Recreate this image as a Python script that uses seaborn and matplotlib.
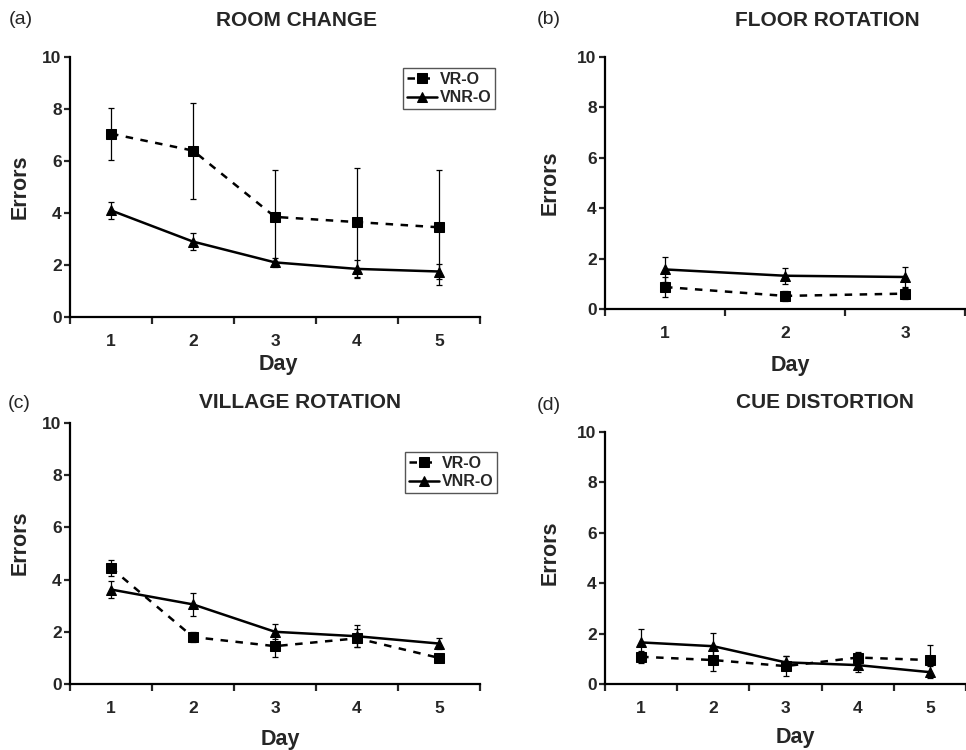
import numpy as np
import pandas as pd
import matplotlib
matplotlib.use("Agg")
import matplotlib.pyplot as plt
import seaborn as sns

# ---- data ----
groups = ["VR-O", "VNR-O"]

room_days = [1, 2, 3, 4, 5]
room_vr = [7.05, 6.4, 3.85, 3.65, 3.45]
room_vr_sem = [1.0, 1.85, 1.8, 2.1, 2.2]
room_vnr = [4.1, 2.9, 2.1, 1.85, 1.75]
room_vnr_sem = [0.32, 0.32, 0.18, 0.35, 0.27]

floor_days = [1, 2, 3]
floor_vr = [0.87, 0.52, 0.61]
floor_vr_sem = [0.38, 0.2, 0.21]
floor_vnr = [1.57, 1.32, 1.27]
floor_vnr_sem = [0.5, 0.32, 0.38]

village_days = [1, 2, 3, 4, 5]
village_vr = [4.45, 1.8, 1.45, 1.75, 1.0]
village_vr_sem = [0.32, 0.18, 0.4, 0.35, 0.05]
village_vnr = [3.62, 3.05, 2.0, 1.83, 1.55]
village_vnr_sem = [0.33, 0.43, 0.28, 0.42, 0.21]

cue_days = [1, 2, 3, 4, 5]
cue_vr = [1.08, 0.95, 0.71, 1.05, 0.95]
cue_vr_sem = [0.23, 0.42, 0.4, 0.23, 0.6]
cue_vnr = [1.65, 1.5, 0.86, 0.75, 0.47]
cue_vnr_sem = [0.52, 0.52, 0.26, 0.27, 0.23]

W, H = 966, 750

sns.set_style("ticks")
plt.rcParams["font.family"] = ["Liberation Sans", "DejaVu Sans"]
plt.rcParams["axes.linewidth"] = 1.6


def px_box(left, top, right, bottom):
    return [left / W, 1 - bottom / H, (right - left) / W, (bottom - top) / H]


def draw_panel(fig, box, days, vr, vr_sem, vnr, vnr_sem, legend_at=None):
    ax = fig.add_axes(px_box(*box))
    df = pd.DataFrame({
        "day": list(days) * 2,
        "errors": list(vr) + list(vnr),
        "group": [groups[0]] * len(days) + [groups[1]] * len(days),
    })

    # error bars first, underneath
    ax.errorbar(days, vr, yerr=vr_sem, fmt="none", ecolor="black",
                elinewidth=0.9, capsize=2.5, capthick=0.9, zorder=1)
    ax.errorbar(days, vnr, yerr=vnr_sem, fmt="none", ecolor="black",
                elinewidth=0.9, capsize=2.5, capthick=0.9, zorder=1)

    sns.lineplot(data=df, x="day", y="errors", style="group",
                 style_order=groups,
                 markers={"VR-O": "s", "VNR-O": "^"},
                 dashes={"VR-O": (3, 3), "VNR-O": ""},
                 color="black", linewidth=1.8, markersize=6.5,
                 markeredgecolor="black", ax=ax, zorder=3,
                 legend=legend_at is not None)

    n = len(days)
    ax.set_xlim(0.5, n + 0.5)
    ax.set_ylim(0, 10)
    ax.set_xticks(np.arange(0.5, n + 1.0, 1.0), labels=[])
    ax.set_xticks(days, labels=[str(d) for d in days], minor=True)
    ax.tick_params(axis="x", which="major", length=5, width=1.6, direction="out")
    ax.tick_params(axis="x", which="minor", length=0, pad=12, labelsize=12.5)
    ax.set_yticks([0, 2, 4, 6, 8, 10])
    ax.tick_params(axis="y", length=4, width=1.6, pad=2, labelsize=12.5)
    for lab in ax.get_xticklabels(minor=True) + ax.get_yticklabels():
        lab.set_fontweight("bold")
    ax.set_xlabel("")
    ax.set_ylabel("")
    for s in ["top", "right"]:
        ax.spines[s].set_visible(False)
    for s in ["left", "bottom"]:
        ax.spines[s].set_color("black")
    for line in ax.lines:
        line.set_clip_on(False)

    if legend_at is not None:
        leg = ax.get_legend()
        handles = leg.legend_handles
        labels = [t.get_text() for t in leg.get_texts()]
        ax.legend(handles, labels, loc="upper left",
                  bbox_to_anchor=(legend_at[0] / W, 1 - legend_at[1] / H),
                  bbox_transform=fig.transFigure, borderaxespad=0,
                  frameon=True, fancybox=False, edgecolor="#555555",
                  framealpha=1, borderpad=0.25, handlelength=1.9,
                  handletextpad=0.15, labelspacing=0.2,
                  prop={"weight": "bold", "size": 11.5})
    return ax


fig = plt.figure(figsize=(W / 100, H / 100), dpi=100)

draw_panel(fig, (70, 57, 480, 317), room_days, room_vr, room_vr_sem,
           room_vnr, room_vnr_sem, legend_at=(403, 68))
draw_panel(fig, (605, 57, 965, 309), floor_days, floor_vr, floor_vr_sem,
           floor_vnr, floor_vnr_sem)
draw_panel(fig, (70, 423, 480, 684), village_days, village_vr, village_vr_sem,
           village_vnr, village_vnr_sem, legend_at=(405, 452))
draw_panel(fig, (605, 432, 966, 684), cue_days, cue_vr, cue_vr_sem,
           cue_vnr, cue_vnr_sem)

# panel letters, titles and axis labels
texts = [
    ("(a)", 9, 20, "ROOM CHANGE", 297, 20),
    ("(b)", 537, 20, "FLOOR ROTATION", 827, 20),
    ("(c)", 8, 403, "VILLAGE ROTATION", 300, 403),
    ("(d)", 537, 405, "CUE DISTORTION", 825, 403),
]
for letter, lx, ly, title, tx, ty in texts:
    fig.text(lx / W, 1 - ly / H, letter, fontsize=14, ha="left", va="center")
    fig.text(tx / W, 1 - ty / H, title, fontsize=15, fontweight="bold",
             ha="center", va="center")

ylabels = [(20, 187), (550, 183), (20, 543), (550, 553)]
for x, y in ylabels:
    fig.text(x / W, 1 - y / H, "Errors", fontsize=15.5, fontweight="bold",
             rotation=90, ha="center", va="center")

xlabels = [(278, 364), (790, 365), (280, 740), (795, 738)]
for x, y in xlabels:
    fig.text(x / W, 1 - y / H, "Day", fontsize=15.5, fontweight="bold",
             ha="center", va="center")

fig.savefig("out.png", dpi=100)
